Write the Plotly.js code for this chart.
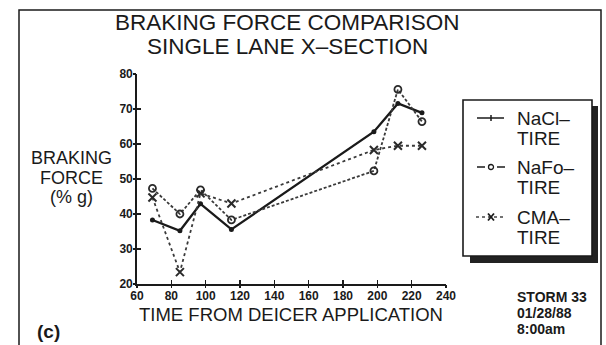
<!DOCTYPE html>
<html>
<head>
<meta charset="utf-8">
<script src="https://cdn.plot.ly/plotly-3.0.1.min.js"></script>
<style>html,body{margin:0;padding:0;background:#fff;}#chart{width:606px;height:345px;}</style>
</head>
<body>
<div id="chart"></div>
<script>
// ---- data ----
const timeMin = [69, 85, 97, 115, 198, 212, 226];
const naclTire = [38.3, 35.2, 42.9, 35.6, 63.5, 71.6, 68.9];
const nafoTire = [47.3, 40.0, 46.9, 38.3, 52.3, 75.6, 66.4];
const cmaTire  = [44.7, 23.4, 45.9, 43.0, 58.3, 59.5, 59.5];
const seriesNames = [["NaCl\u2013", "TIRE"], ["NaFo\u2013", "TIRE"], ["CMA\u2013", "TIRE"]];
const xTicks = [60, 80, 100, 120, 140, 160, 180, 200, 220, 240];
const yTicks = [20, 30, 40, 50, 60, 70, 80];
const titleLines = ["BRAKING FORCE COMPARISON", "SINGLE LANE X\u2013SECTION"];
const yTitleLines = ["BRAKING", "FORCE", "(% g)"];
const xTitle = "TIME FROM DEICER APPLICATION";
const stormLines = ["STORM 33", "01/28/88", "8:00am"];
const panelLabel = "(c)";

// ---- layout geometry (pixels) ----
const W = 606, H = 345;
const L = 137, R = 446, T = 74, B = 284;
const X = px => (px - L) / (R - L);
const Y = py => (B - py) / (B - T);
const FONT = "Liberation Sans, Arial, sans-serif";
const INK = "#1a1a1a";

const traces = [
  {x: timeMin, y: naclTire, mode: "lines+markers", name: "NaCl", line: {color: INK, width: 2.3},
   marker: {symbol: "circle", size: 5, color: INK}},
  {x: timeMin, y: nafoTire, mode: "lines+markers", name: "NaFo", line: {color: "#3a3a3a", width: 1.8, dash: "3px,2px"},
   marker: {symbol: "circle-open", size: 7, color: "#2a2a2a", line: {width: 1.8}}},
  {x: timeMin, y: cmaTire, mode: "lines+markers", name: "CMA", line: {color: "#3a3a3a", width: 1.8, dash: "dot"},
   marker: {symbol: "x-thin-open", size: 8, color: "#2a2a2a", line: {width: 2}}},
  // invisible trace to carry the outer ticks on the overlaid axes
  {x: [60], y: [20], xaxis: "x2", yaxis: "y2", mode: "markers", marker: {opacity: 0}, hoverinfo: "skip", showlegend: false}
];

const annotations = [];
function txt(text, px, py, size, opts) {
  annotations.push(Object.assign({
    text: text, x: X(px), y: Y(py), xref: "paper", yref: "paper",
    showarrow: false, xanchor: "center", yanchor: "middle",
    font: {family: FONT, size: size, color: INK}
  }, opts || {}));
}
txt(titleLines[0], 287, 22, 22.5);
txt(titleLines[1], 287, 46, 22.5);
txt(yTitleLines[0], 71, 158, 18);
txt(yTitleLines[1], 71, 178, 18);
txt(yTitleLines[2], 71, 197, 18);
txt(xTitle, 291, 314, 18.5);
stormLines.forEach((s, i) => txt(s, 515, 297 + i * 16, 14,
  {xanchor: "left", font: {family: FONT, size: 14, color: INK, weight: "bold"}}));
txt(panelLabel, 48, 331, 19, {font: {family: FONT, size: 19, color: INK, weight: "bold"}});
// legend text
const legY = [118, 167, 217];
seriesNames.forEach((nm, i) => {
  txt(nm[0], 515, legY[i], 19, {xanchor: "left"});
  txt(nm[1], 515, legY[i] + 20, 19, {xanchor: "left"});
});

const shapes = [];
function rect(x0, y0, x1, y1, o) {
  shapes.push(Object.assign({type: "rect", xref: "paper", yref: "paper",
    x0: X(x0), x1: X(x1), y0: Y(y0), y1: Y(y1)}, o));
}
function seg(x0, y0, x1, y1, o) {
  shapes.push(Object.assign({type: "line", xref: "paper", yref: "paper",
    x0: X(x0), x1: X(x1), y0: Y(y0), y1: Y(y1)}, o));
}
// outer frame
rect(19, 10, 601, 360, {line: {color: INK, width: 1.5}});
// legend shadow + box
rect(470, 106, 598, 263, {fillcolor: "#222", line: {width: 0}});
rect(463, 100, 592, 256, {fillcolor: "#fff", line: {color: INK, width: 1.6}});
// legend samples
seg(477, legY[0], 504, legY[0], {line: {color: INK, width: 1.5}});
seg(491, legY[0] - 3, 491, legY[0] + 3, {line: {color: INK, width: 1.5}});
seg(477, legY[1], 485, legY[1], {line: {color: INK, width: 1.5}});
seg(497, legY[1], 505, legY[1], {line: {color: INK, width: 1.5}});
shapes.push({type: "circle", xref: "paper", yref: "paper", x0: X(488.5), x1: X(493.5), y0: Y(legY[1] - 2.5), y1: Y(legY[1] + 2.5), line: {color: INK, width: 1.3}});
seg(476, legY[2], 505, legY[2], {line: {color: "#444", width: 1.5, dash: "dot"}});
seg(488, legY[2] - 3.5, 494, legY[2] + 3.5, {line: {color: INK, width: 1.8}});
seg(488, legY[2] + 3.5, 494, legY[2] - 3.5, {line: {color: INK, width: 1.8}});

const tickFont = {family: FONT, size: 12, color: INK, weight: "bold"};
const layout = {
  width: W, height: H,
  margin: {l: L, r: W - R, t: T, b: H - B, pad: 0},
  paper_bgcolor: "#fff", plot_bgcolor: "rgba(0,0,0,0)",
  showlegend: false,
  xaxis: {range: [60, 240], tickvals: xTicks, ticktext: xTicks.map(String), showgrid: false, zeroline: false,
    showline: true, linecolor: INK, linewidth: 1.8, ticks: "inside", ticklen: 4, tickwidth: 1.5, tickcolor: INK,
    tickfont: tickFont, fixedrange: true},
  yaxis: {range: [20, 80], tickvals: yTicks, ticktext: yTicks.map(String), showgrid: false, zeroline: false,
    showline: true, linecolor: INK, linewidth: 1.8, ticks: "inside", ticklen: 4, tickwidth: 1.5, tickcolor: INK,
    tickfont: tickFont, fixedrange: true},
  xaxis2: {overlaying: "x", range: [60, 240], tickvals: xTicks, showticklabels: false, showgrid: false, zeroline: false,
    ticks: "outside", ticklen: 3, tickwidth: 1.5, tickcolor: INK, showline: false},
  yaxis2: {overlaying: "y", range: [20, 80], tickvals: yTicks, showticklabels: false, showgrid: false, zeroline: false,
    ticks: "outside", ticklen: 3, tickwidth: 1.5, tickcolor: INK, showline: false},
  annotations: annotations,
  shapes: shapes
};
Plotly.newPlot("chart", traces, layout, {staticPlot: true, displayModeBar: false});
</script>
</body>
</html>
